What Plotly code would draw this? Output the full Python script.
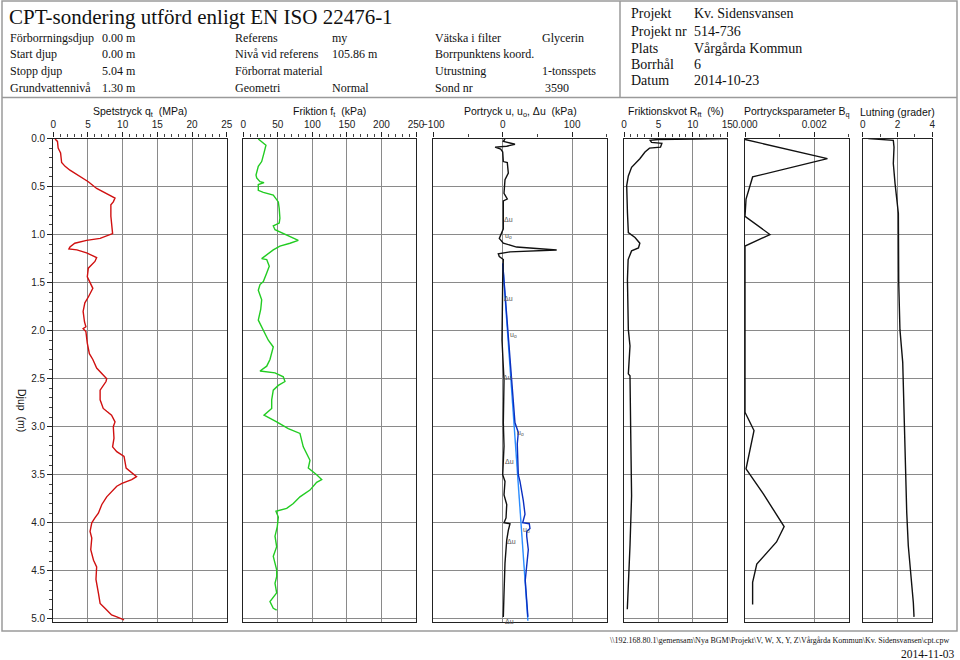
import plotly.graph_objects as go

# ---------------- data ----------------
qt_depth = [0.005,0.03,0.10,0.15,0.25,0.29,0.33,0.40,0.45,0.52,0.57,0.62,0.66,0.69,0.81,0.92,0.99,1.04,1.06,1.09,
            1.13,1.15,1.16,1.19,1.24,1.28,1.35,1.44,1.51,1.56,1.65,1.71,1.80,1.91,1.96,1.98,2.01,2.13,2.24,2.30,
            2.39,2.50,2.53,2.62,2.72,2.81,2.84,2.88,2.95,3.00,3.12,3.21,3.26,3.31,3.43,3.48,3.52,3.55,3.59,3.62,
            3.68,3.73,3.81,3.90,3.95,4.00,4.09,4.16,4.28,4.39,4.46,4.59,4.73,4.84,4.89,4.94,4.96,4.98,5.01]
qt = [0.25,0.6,0.7,1.05,1.2,1.7,2.4,3.85,5.05,6.25,7.7,8.9,8.65,8.3,8.3,8.4,8.55,6.75,4.8,3.1,
      2.4,2.25,3.4,4.8,6.25,6.0,5.05,4.9,5.3,5.7,5.05,4.55,4.3,4.5,4.7,4.3,4.7,4.9,5.2,5.7,
      6.25,7.7,7.6,6.75,6.75,7.2,7.7,8.4,8.9,8.65,8.75,8.55,9.15,10.2,10.5,11.3,12.0,11.3,9.9,9.15,
      8.4,7.7,7.0,6.5,6.0,5.55,5.3,5.55,5.4,5.8,6.25,6.15,6.5,6.75,7.45,8.2,8.4,9.15,10.2]

ft_depth = [0.005,0.07,0.15,0.24,0.29,0.38,0.41,0.45,0.46,0.48,0.54,0.56,0.59,0.66,0.73,0.83,0.88,0.91,0.95,0.97,
            1.00,1.06,1.09,1.12,1.16,1.21,1.25,1.26,1.33,1.40,1.49,1.52,1.58,1.68,1.78,1.89,1.94,1.99,2.10,2.17,
            2.24,2.30,2.37,2.42,2.44,2.48,2.53,2.57,2.62,2.72,2.81,2.88,2.95,3.02,3.07,3.21,3.35,3.43,3.50,3.55,
            3.58,3.66,3.73,3.80,3.85,3.87,3.88,3.94,4.04,4.14,4.25,4.35,4.49,4.56,4.63,4.73,4.82,4.89,4.91]
ft = [21.7,32.8,30,26.6,21.7,18.4,19.4,24.2,30,21.7,21.7,29,43.4,50.7,52,53,52,43.4,45.9,52,
      62.8,79.6,67.6,53,43.4,33.9,26.6,33.9,37.6,33.9,29,24.2,21.7,26.6,25.2,21.7,25.2,29,36.2,43.4,
      41.1,38.6,33.9,24.2,45.9,57.9,60.3,50.7,43.4,41.1,41.1,30,48.3,65.1,82,86.8,96.5,94.1,106.2,113.5,
      106.2,96.5,82,72.4,62.8,53.1,47.3,50.7,49.2,45.9,48.3,43.4,48.3,48.3,45.9,48.3,38.6,43.4,48.3]

du_depth = [0.005,0.03,0.06,0.08,0.09,0.11,0.14,0.24,0.25,0.36,0.43,0.57,0.63,0.65,0.94,1.04,1.09,1.13,1.16,1.17,
            1.18,1.20,1.23,1.26,1.47,2.10,2.52,2.96,3.20,3.50,3.57,3.71,3.81,3.95,4.00,4.01,4.08,4.18,4.42,4.73,4.98]
du = [3.3,0.9,17.7,5.8,-11,-2.9,0,0.9,6.6,8.1,3.3,1.9,6.6,0.9,0.9,-4.9,0.9,20,77.8,39.3,
      10.5,-6.3,-4.9,0.9,0,-1,1.9,0.9,1.9,0,3.3,1.9,5.8,4.8,1.9,10.5,8.1,5.8,3.3,1.9,0.9]

u_depth = [1.30,1.60,2.00,2.52,2.96,3.06,3.18,3.50,3.57,3.67,3.77,3.91,4.00,4.01,4.06,4.09,4.14,4.28,4.60,4.98]
u = [0,3,7,13,17.7,22.5,21,22.5,24.9,27.4,29.7,32.1,28.8,38.3,39.3,34.6,34.6,36.9,32.5,36.3]

u0_depth = [1.30, 5.02]
u0 = [0, 36.3]

rf_depth = [0.0,0.01,0.02,0.04,0.05,0.09,0.10,0.14,0.21,0.30,0.39,0.49,0.77,0.98,1.03,1.09,1.14,1.17,1.26,1.47,
            1.99,2.16,2.45,2.47,3.03,3.72,4.24,4.76,4.90]
rf = [16,5.0,3.8,4.0,5.5,5.3,3.7,3.05,2.3,1.1,0.63,0.39,0.5,0.63,1.6,2.3,2.1,1.1,0.6,0.5,
      0.63,0.87,0.63,0.87,0.97,1.1,0.87,0.63,0.48]

bq_depth = [0.01,0.21,0.40,0.63,0.81,1.00,1.12,2.85,3.04,3.44,3.70,4.04,4.20,4.43,4.62,4.85]
bq = [0,0.00238,0.00022,0.00003,0,0.00072,0,0,0.00026,0.00003,0.00053,0.00113,0.00091,0.00034,0.00022,0.00022]

lut_depth = [0.0,0.02,0.09,0.26,0.47,0.61,0.78,1.50,1.99,2.33,2.85,3.37,3.89,4.24,4.59,4.83,4.98]
lut = [0.32,1.76,1.8,1.76,1.86,1.95,2.05,2.07,2.14,2.3,2.37,2.43,2.53,2.62,2.81,2.91,2.95]

ulab_text = ["Δu","u<sub>o</sub>","Δu","u<sub>o</sub>","Δu","u<sub>o</sub>","Δu","u<sub>o</sub>","Δu","Δu"]
ulab_u = [8,8,9,15,6.6,25,9.5,34.6,12,10.5]
ulab_depth = [0.84,1.02,1.67,2.05,2.49,3.07,3.36,4.08,4.2,5.03]

panel_titles = ["Spetstryck q<sub>t</sub>  (MPa)", "Friktion f<sub>t</sub>  (kPa)",
                "Portryck u, u<sub>o</sub>, Δu  (kPa)", "Friktionskvot R<sub>ft</sub>  (%)",
                "Portrycksparameter B<sub>q</sub>", "Lutning (grader)"]

header_left = [("Förborrningsdjup", "0.00 m"), ("Start djup", "0.00 m"),
               ("Stopp djup", "5.04 m"), ("Grundvattennivå", "1.30 m")]
header_mid = [("Referens", "my"), ("Nivå vid referens", "105.86 m"),
              ("Förborrat material", ""), ("Geometri", "Normal")]
header_mid2 = [("Vätska i filter", "Glycerin"), ("Borrpunktens koord.", ""),
               ("Utrustning", "1-tonsspets"), ("Sond nr", " 3590")]
header_right = [("Projekt", "Kv. Sidensvansen"), ("Projekt nr", "514-736"),
                ("Plats", "Vårgårda Kommun"), ("Borrhål", "6"), ("Datum", "2014-10-23")]

# ---------------- layout helpers ----------------
W, H = 960, 660
def px(x): return x / W
def py(y): return 1 - y / H

SANS = "Liberation Sans, Arial, sans-serif"
SERIF = "Liberation Serif, Times New Roman, serif"
GRID = "#8a8a8a"
DEPTH_MAX = 5.03

panels = [  # x0, x1 in px, range, tickvals, ticktext, minor dtick
    (53.3, 226.7, [0, 25], [0, 5, 10, 15, 20, 25], None, 1),
    (243.3, 416.0, [0, 250], [0, 50, 100, 150, 200, 250], None, 10),
    (433.3, 606.8, [-100, 150], [-100, 0, 100], None, 50),
    (624.0, 727.3, [0, 15], [0, 5, 10, 15], None, 1),
    (745.0, 848.9, [0, 0.003], [0, 0.002], ["0.000", "0.002"], 0.001),
    (862.7, 932.3, [0, 4], [0, 2, 4], None, 1),
]
ytop, ybot = 138.5, 621.7

fig = go.Figure()

series = [
    (1, qt, qt_depth, "#d01010", "qt"),
    (2, ft, ft_depth, "#22cc22", "ft"),
    (3, u0, u0_depth, "#2a8cff", "u0"),
    (3, u, u_depth, "#0a2fc0", "u"),
    (3, du, du_depth, "#111111", "du"),
    (4, rf, rf_depth, "#111111", "Rf"),
    (5, bq, bq_depth, "#111111", "Bq"),
    (6, lut, lut_depth, "#111111", "Lutning"),
]
for i, xs, ys, col, name in series:
    fig.add_trace(go.Scatter(x=xs, y=ys, mode="lines", name=name,
                             line=dict(color=col, width=1.4),
                             xaxis="x" if i == 1 else f"x{i}",
                             yaxis="y" if i == 1 else f"y{i}",
                             showlegend=False, hoverinfo="skip"))

layout = dict(width=W, height=H, margin=dict(l=0, r=0, t=0, b=0, autoexpand=False),
              paper_bgcolor="white", plot_bgcolor="white", showlegend=False)

for k, (x0, x1, rng, tv, tt, mdt) in enumerate(panels, start=1):
    sfx = "" if k == 1 else str(k)
    layout[f"xaxis{sfx}"] = dict(
        domain=[px(x0), px(x1)], range=rng, side="top", automargin=False,
        anchor="y" if k == 1 else f"y{k}",
        tickvals=tv, ticktext=tt, ticks="outside", ticklen=5, tickcolor="#222",
        tickfont=dict(family=SANS, size=10, color="#222"),
        showgrid=True, gridcolor=GRID, gridwidth=1.2,
        showline=True, linecolor="#222", linewidth=1.2, mirror=True,
        zeroline=False, fixedrange=True,
        minor=dict(dtick=mdt, tick0=rng[0], ticks="outside", ticklen=3,
                   tickcolor="#444", showgrid=False),
    )
    ya = dict(domain=[py(ybot), py(ytop)], range=[DEPTH_MAX, 0], automargin=False,
              anchor="x" if k == 1 else f"x{k}",
              dtick=0.5, tick0=0, showgrid=True, gridcolor=GRID, gridwidth=1.2,
              showline=True, linecolor="#222", linewidth=1.2, mirror=True,
              zeroline=False, fixedrange=True)
    if k == 1:
        ya.update(ticks="outside", ticklen=5, tickcolor="#222", tickformat=".1f",
                  tickfont=dict(family=SANS, size=10, color="#222"),
                  minor=dict(dtick=0.1, tick0=0, ticks="outside", ticklen=3,
                             tickcolor="#444", showgrid=False))
    else:
        ya.update(showticklabels=False, ticks="")
    layout[f"yaxis{sfx}"] = ya

fig.update_layout(**layout)

ann = []
# panel titles
for (x0, x1, *_), t in zip(panels, panel_titles):
    ann.append(dict(x=px((x0 + x1) / 2), y=py(112), xref="paper", yref="paper",
                    text=t, showarrow=False, xanchor="center", yanchor="middle",
                    font=dict(family=SANS, size=10.5, color="#111")))
# depth label
ann.append(dict(x=px(22), y=py(410), xref="paper", yref="paper", text="Djup  (m)",
                showarrow=False, textangle=90, xanchor="center", yanchor="middle",
                font=dict(family=SANS, size=10.5, color="#111")))
# u labels
for t, xv, yv in zip(ulab_text, ulab_u, ulab_depth):
    ann.append(dict(x=xv, y=yv, xref="x3", yref="y3", text=t, showarrow=False,
                    xanchor="center", yanchor="middle",
                    font=dict(family=SANS, size=7, color="#555")))

# header
ann.append(dict(x=px(7), y=py(17), xref="paper", yref="paper",
                text="CPT-sondering utförd enligt EN ISO 22476-1", showarrow=False,
                xanchor="left", yanchor="middle", font=dict(family=SERIF, size=21, color="#111")))
rows_y = [38, 54.5, 71, 87.5]
for cols, xl, xv in [(header_left, 8, 100), (header_mid, 233, 330), (header_mid2, 433, 540)]:
    for (lab, val), yy in zip(cols, rows_y):
        ann.append(dict(x=px(xl), y=py(yy), xref="paper", yref="paper", text=lab,
                        showarrow=False, xanchor="left", yanchor="middle",
                        font=dict(family=SERIF, size=12, color="#111")))
        if val:
            ann.append(dict(x=px(xv), y=py(yy), xref="paper", yref="paper", text=val,
                            showarrow=False, xanchor="left", yanchor="middle",
                            font=dict(family=SERIF, size=12, color="#111")))
rows_r = [13.5, 31.5, 48.5, 64.5, 81]
for (lab, val), yy in zip(header_right, rows_r):
    ann.append(dict(x=px(629), y=py(yy), xref="paper", yref="paper", text=lab,
                    showarrow=False, xanchor="left", yanchor="middle",
                    font=dict(family=SERIF, size=14, color="#111")))
    ann.append(dict(x=px(692), y=py(yy), xref="paper", yref="paper", text=val,
                    showarrow=False, xanchor="left", yanchor="middle",
                    font=dict(family=SERIF, size=14, color="#111")))
# footer
ann.append(dict(x=px(950), y=py(640), xref="paper", yref="paper",
                text="\\\\192.168.80.1\\gemensam\\Nya BGM\\Projekt\\V, W, X, Y, Z\\Vårgårda Kommun\\Kv. Sidensvansen\\cpt.cpw",
                showarrow=False, xanchor="right", yanchor="middle", borderpad=0,
                font=dict(family=SERIF, size=8, color="#111")))
ann.append(dict(x=px(955), y=py(653.5), xref="paper", yref="paper", text="2014-11-03",
                showarrow=False, xanchor="right", yanchor="middle", borderpad=0,
                font=dict(family=SERIF, size=11.5, color="#111")))

shapes = [
    dict(type="rect", xref="paper", yref="paper", x0=px(2), y0=py(631), x1=px(957), y1=py(1),
         line=dict(color="#9a9a9a", width=1.5)),
    dict(type="line", xref="paper", yref="paper", x0=px(2), y0=py(97.5), x1=px(957), y1=py(97.5),
         line=dict(color="#9a9a9a", width=1.5)),
    dict(type="line", xref="paper", yref="paper", x0=px(620), y0=py(1), x1=px(620), y1=py(97.5),
         line=dict(color="#9a9a9a", width=1.5)),
]
fig.update_layout(annotations=ann, shapes=shapes)

fig.write_html("out.html")
